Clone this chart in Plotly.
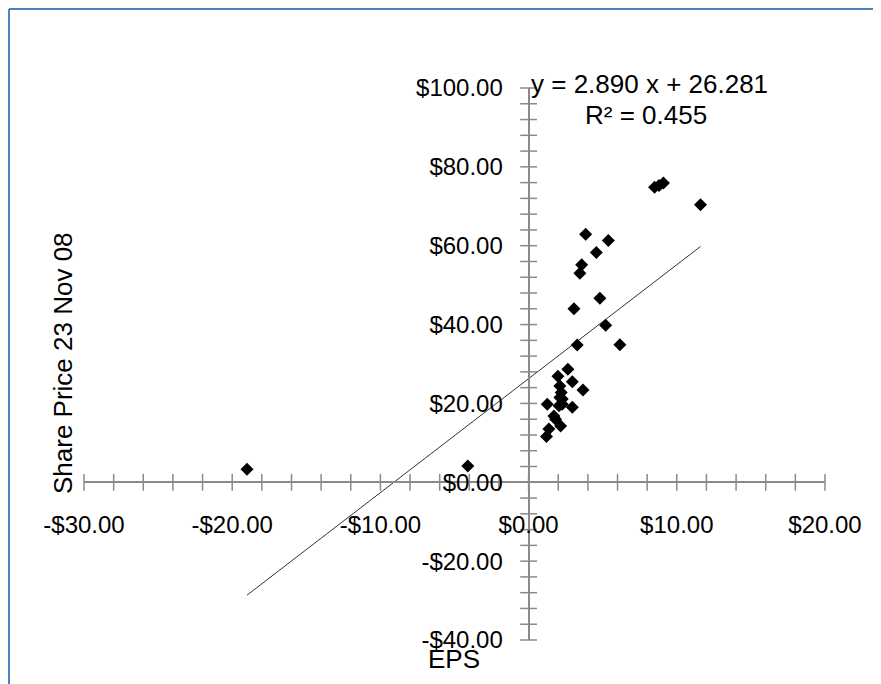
import plotly.graph_objects as go

# ---- data ----
eps = [-19.0, -4.1, 8.5, 8.8, 9.1, 11.6, 3.85, 5.38, 4.57, 3.58, 3.46, 4.81, 3.06,
       5.20, 3.28, 6.16, 2.65, 1.98, 2.95, 2.11, 3.67, 2.20, 2.11, 2.27, 1.26, 2.05,
       2.95, 1.71, 1.82, 2.16, 1.37, 1.21, 2.27]
price = [3.3, 4.1, 74.8, 75.3, 75.9, 70.4, 62.9, 61.3, 58.3, 55.2, 53.0, 46.7, 44.0,
         39.8, 34.8, 34.9, 28.7, 26.9, 25.5, 24.4, 23.4, 22.8, 21.5, 21.1, 19.8, 19.4,
         19.0, 16.8, 16.0, 14.3, 13.5, 11.6, 19.8]

trend_slope = 2.890
trend_intercept = 26.281
trend_r2 = 0.455

x_tick_vals = [-30, -20, -10, 0, 10, 20]
x_tick_text = ["-$30.00", "-$20.00", "-$10.00", "$0.00", "$10.00", "$20.00"]
y_tick_vals = [-40, -20, 0, 20, 40, 60, 80, 100]
y_tick_text = ["-$40.00", "-$20.00", "$0.00", "$20.00", "$40.00", "$60.00", "$80.00", "$100.00"]
x_minor_step = 2
y_minor_step = 4

X_RANGE = [-30, 20]
Y_RANGE = [-40, 100]

FONT = "Liberation Sans, Arial, sans-serif"
AXIS_COLOR = "#8a8a8a"

fig = go.Figure()

# tick marks crossing the axes
x_ticks = [v for v in range(X_RANGE[0], X_RANGE[1] + 1, x_minor_step)]
y_ticks = [v for v in range(Y_RANGE[0], Y_RANGE[1] + 1, y_minor_step)]
fig.add_trace(go.Scatter(x=x_ticks, y=[0] * len(x_ticks), mode="markers",
                         marker=dict(symbol="line-ns", size=12,
                                     line=dict(color=AXIS_COLOR, width=1.5)),
                         hoverinfo="skip", showlegend=False, cliponaxis=False))
fig.add_trace(go.Scatter(x=[0] * len(y_ticks), y=y_ticks, mode="markers",
                         marker=dict(symbol="line-ew", size=12,
                                     line=dict(color=AXIS_COLOR, width=1.5)),
                         hoverinfo="skip", showlegend=False, cliponaxis=False))

# trend line
x_lo, x_hi = min(eps), max(eps)
fig.add_trace(go.Scatter(x=[x_lo, x_hi],
                         y=[trend_slope * x_lo + trend_intercept, trend_slope * x_hi + trend_intercept],
                         mode="lines", line=dict(color="#333333", width=1),
                         hoverinfo="skip", showlegend=False))

# data points
fig.add_trace(go.Scatter(x=eps, y=price, mode="markers",
                         marker=dict(symbol="diamond", size=10, color="black"),
                         showlegend=False, cliponaxis=False))

xpos = (0 - X_RANGE[0]) / (X_RANGE[1] - X_RANGE[0])
ypos = (0 - Y_RANGE[0]) / (Y_RANGE[1] - Y_RANGE[0])

fig.update_layout(
    width=881, height=684,
    margin=dict(l=76, r=64, t=80, b=52),
    paper_bgcolor="white", plot_bgcolor="white",
    font=dict(family=FONT, size=24, color="black"),
    xaxis=dict(range=X_RANGE, showgrid=False, zeroline=False,
               anchor="free", position=ypos,
               showline=True, linecolor=AXIS_COLOR, linewidth=2,
               tickvals=x_tick_vals, ticktext=x_tick_text, ticks="",
               ticklabelstandoff=21,
               tickfont=dict(family=FONT, size=24, color="black")),
    yaxis=dict(range=Y_RANGE, showgrid=False, zeroline=False,
               anchor="free", position=xpos,
               showline=True, linecolor=AXIS_COLOR, linewidth=2,
               tickvals=y_tick_vals, ticktext=y_tick_text, ticks="",
               ticklabelstandoff=20,
               tickfont=dict(family=FONT, size=24, color="black")),
    annotations=[
        dict(text=f"y = {trend_slope:.3f} x + {trend_intercept:.3f}", xref="paper", yref="paper",
             x=0.7638, y=1.0072, showarrow=False, xanchor="center", yanchor="middle",
             font=dict(family=FONT, size=26, color="black")),
        dict(text=f"R² = {trend_r2:.3f}", xref="paper", yref="paper",
             x=0.7584, y=0.951, showarrow=False, xanchor="center", yanchor="middle",
             font=dict(family=FONT, size=26, color="black")),
        dict(text="EPS", xref="paper", yref="paper", x=0.4993, y=-0.0344,
             showarrow=False, xanchor="center", yanchor="middle",
             font=dict(family=FONT, size=26, color="black")),
        dict(text="Share Price 23 Nov 08", xref="paper", yref="paper", x=-0.0283, y=0.5018,
             textangle=-90, showarrow=False, xanchor="center", yanchor="middle",
             font=dict(family=FONT, size=26, color="black")),
    ],
    shapes=[
        dict(type="line", xref="paper", yref="paper", x0=-0.1012, x1=-0.1012, y0=-0.2, y1=1.1431,
             line=dict(color="#4f81bd", width=2)),
        dict(type="line", xref="paper", yref="paper", x0=-0.1012, x1=1.2, y0=1.1431, y1=1.1431,
             line=dict(color="#4f81bd", width=2)),
    ],
)

fig.write_html("out.html")
